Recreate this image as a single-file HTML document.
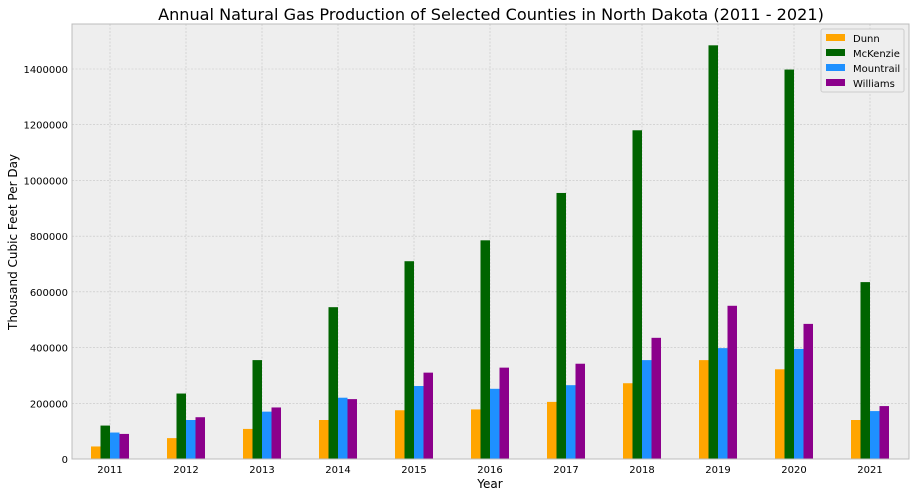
<!DOCTYPE html>
<html><head><meta charset="utf-8"><style>
body{margin:0;background:#fff;font-family:"DejaVu Sans","Liberation Sans",sans-serif;}
</style></head><body>
<svg id="chart" width="916" height="497" xmlns="http://www.w3.org/2000/svg" font-family="DejaVu Sans, Liberation Sans, sans-serif"></svg>
<script>
const years=["2011","2012","2013","2014","2015","2016","2017","2018","2019","2020","2021"];
const seriesNames=["Dunn","McKenzie","Mountrail","Williams"];
const dunn=[45000,75000,108000,140000,175000,178000,205000,272000,355000,322000,140000];
const mckenzie=[120000,235000,355000,545000,710000,785000,955000,1180000,1485000,1398000,635000];
const mountrail=[95000,140000,170000,220000,262000,252000,265000,355000,398000,395000,172000];
const williams=[90000,150000,185000,215000,310000,328000,342000,435000,550000,485000,190000];
const yTicks=[0,200000,400000,600000,800000,1000000,1200000,1400000];
const colors=["#ffa500","#006400","#1e90ff","#8b008b"];
const data=[dunn,mckenzie,mountrail,williams];
const svg=document.getElementById('chart');
const NS="http://www.w3.org/2000/svg";
const L=72,R=909,T=24,B=459;
const y=v=>B-v*(B-69)/1400000;
const x=i=>110+i*76;
function el(t,a,txt){const e=document.createElementNS(NS,t);for(const k in a)e.setAttribute(k,a[k]);if(txt!=null)e.textContent=txt;svg.appendChild(e);return e;}
let e=el('rect',{x:L,y:T,width:R-L,height:B-T,fill:'#eeeeee'});

yTicks.forEach(v=>{
 let g=el('line',{x1:L,x2:R,y1:y(v),y2:y(v),stroke:'#c4c4c4','stroke-dasharray':'2,1.5','stroke-width':0.6});
 
 let t=el('text',{x:L-4,y:y(v)+4,'text-anchor':'end','font-size':10,fill:'#000'},String(v));
 
});
years.forEach((yr,i)=>{
 let g=el('line',{x1:x(i),x2:x(i),y1:T,y2:B,stroke:'#c4c4c4','stroke-dasharray':'2,1.5','stroke-width':0.6});
 
 let t=el('text',{x:x(i),y:B+14,'text-anchor':'middle','font-size':10},yr);
 
});
const bw=9.5;
data.forEach((s,k)=>{s.forEach((v,i)=>{
 let r=el('rect',{x:x(i)-2*bw+k*bw,y:y(v),width:bw,height:B-y(v),fill:colors[k]});
 
});});
e=el('rect',{x:L,y:T,width:R-L,height:B-T,fill:'none',stroke:'#bcbcbc','stroke-width':1});

e=el('text',{x:491,y:20,'text-anchor':'middle','font-size':16.1},'Annual Natural Gas Production of Selected Counties in North Dakota (2011 - 2021)');

e=el('text',{x:490,y:488,'text-anchor':'middle','font-size':12},'Year');

e=el('text',{x:17,y:242,'text-anchor':'middle','font-size':12,transform:'rotate(-90 17 242)'},'Thousand Cubic Feet Per Day');

e=el('rect',{x:821,y:29,width:83,height:63,fill:'#eeeeee',stroke:'#cccccc',rx:2});

seriesNames.forEach((n,k)=>{
 let r=el('rect',{x:826,y:34+k*15,width:19,height:7,fill:colors[k]});
 
 let t=el('text',{x:853,y:42+k*15,'font-size':10},n);
 
});
</script>
</body></html>
